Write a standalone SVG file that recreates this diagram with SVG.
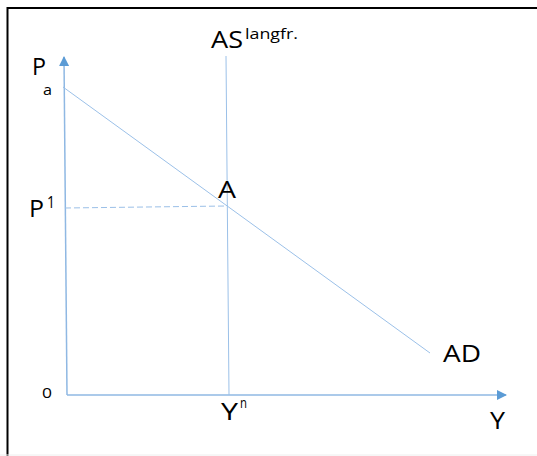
<svg xmlns="http://www.w3.org/2000/svg" width="537" height="456" viewBox="0 0 537 456">
<style>
.t{font-family:"Open Sans","Liberation Sans",sans-serif;fill:#000}
.m{font-size:24px}
.s{font-size:14px}
.ax{stroke:#8FB8E3;stroke-width:1.5;fill:none}
.ln{stroke:#9BC0E8;stroke-width:1;fill:none}
</style>
<defs>
<marker id="ah" viewBox="0 0 10 10" refX="9" refY="5" markerWidth="10" markerHeight="10" markerUnits="userSpaceOnUse" orient="auto">
<path d="M0,0 L10,5 L0,10 Z" fill="#5B9BD5"/>
</marker>
</defs>
<rect x="0" y="0" width="537" height="456" fill="#fff"/>
<path d="M7.5,456 V8 H537" stroke="#000" stroke-width="2" fill="none"/>
<line x1="0" y1="455" x2="537" y2="455" stroke="#eee" stroke-width="1"/>
<g id="connectors">
<line class="ax" x1="67" y1="395" x2="64" y2="57" marker-end="url(#ah)"/>
<line class="ax" x1="67" y1="395" x2="506" y2="395" marker-end="url(#ah)"/>
<line id="as" class="ln" x1="226" y1="56" x2="229" y2="395"/>
<line id="ad" class="ln" x1="63" y1="87" x2="430" y2="353"/>
<line id="p1dash" class="ln" x1="65" y1="208" x2="227" y2="206" stroke-dasharray="6,3"/>
</g>
<g id="labels">
<text class="t m" x="32" y="75" textLength="14" lengthAdjust="spacingAndGlyphs">P</text>
<text class="t s" x="43" y="95" textLength="9" lengthAdjust="spacingAndGlyphs">a</text>
<text class="t m" x="211" y="48" textLength="32" lengthAdjust="spacingAndGlyphs">AS</text>
<text class="t s" x="245" y="39" textLength="53" lengthAdjust="spacingAndGlyphs">langfr.</text>
<text class="t m" x="218" y="198" textLength="18" lengthAdjust="spacingAndGlyphs">A</text>
<text class="t m" x="29" y="217" textLength="15" lengthAdjust="spacingAndGlyphs">P</text>
<text class="t" x="47" y="208" font-size="16" textLength="8" lengthAdjust="spacingAndGlyphs">1</text>
<text class="t s" x="42" y="398" textLength="10" lengthAdjust="spacingAndGlyphs">0</text>
<text class="t m" x="221" y="420" textLength="17" lengthAdjust="spacingAndGlyphs">Y</text>
<text class="t s" x="240" y="408" textLength="7" lengthAdjust="spacingAndGlyphs">n</text>
<text class="t m" x="490" y="429" textLength="15" lengthAdjust="spacingAndGlyphs">Y</text>
<text class="t m" x="443" y="362" textLength="38" lengthAdjust="spacingAndGlyphs">AD</text>
</g>
</svg>
